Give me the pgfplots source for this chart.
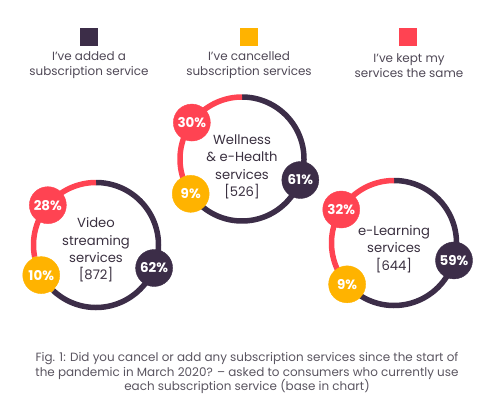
\documentclass[border=0pt]{standalone}
\usepackage{pgfplots}
\pgfplotsset{compat=1.18}
\usepackage{pgfplotstable}
\usepgfplotslibrary{polar}
\usepackage{fontspec}
\setmainfont{Poppins}
\definecolor{cAdd}{HTML}{3C2D48}
\definecolor{cCan}{HTML}{FFB300}
\definecolor{cKep}{HTML}{FF4352}
\definecolor{ctxt}{HTML}{3A3040}
\definecolor{cleg}{HTML}{4F4856}
\definecolor{ccap}{HTML}{5A5560}

% shares in %, ring centre (bp), ring radius (bp), label offset (bp)
\pgfplotstableread{
id added cancelled kept cx cy R dy
0 62 10 28 96 152 62.5 -5
1 61 9 30 242 238 62 -8
2 59 9 32 394 154 62.5 -6
}\shares

\newcommand\getv[2]{\pgfplotstablegetelem{#1}{#2}\of\shares}
\newcommand\ring[2]{%
  \getv{#1}{added}\let\vA\pgfplotsretval
  \getv{#1}{cancelled}\let\vC\pgfplotsretval
  \getv{#1}{kept}\let\vK\pgfplotsretval
  \getv{#1}{cx}\let\cx\pgfplotsretval
  \getv{#1}{cy}\let\cy\pgfplotsretval
  \getv{#1}{R}\let\rr\pgfplotsretval
  \getv{#1}{dy}\let\ly\pgfplotsretval
  \pgfmathsetmacro\aA{90-3.6*\vA}%
  \pgfmathsetmacro\aC{\aA-3.6*\vC}%
  \pgfmathsetmacro\aK{\aC-3.6*\vK}%
  \pgfmathsetmacro\mA{90-1.8*\vA}%
  \pgfmathsetmacro\mC{\aA-1.8*\vC}%
  \pgfmathsetmacro\mK{\aC-1.8*\vK}%
  \pgfmathsetmacro\dd{2*\rr}%
  \begin{polaraxis}[at={(\cx bp,\cy bp)}, anchor=origin, hide axis, scale only axis,
      width=\dd bp, height=\dd bp, xmin=0, xmax=360, ymin=0, ymax=1, clip=false,
      samples=120,
      every node near coord/.style={anchor=center, text=white,
        font=\bfseries\fontsize{13.5}{13.5}\selectfont}]
    \addplot[cAdd, line width=5.5bp, domain=\aA:90] {1};
    \addplot[cCan, line width=5.5bp, domain=\aC:\aA] {1};
    \addplot[cKep, line width=5.5bp, domain=\aK:\aC] {1};
    \addplot[only marks, mark=*, mark size=18.5bp, cAdd,
      nodes near coords={\vA\%}] coordinates {(\mA,1)};
    \addplot[only marks, mark=*, mark size=18.5bp, cCan,
      nodes near coords={\vC\%}] coordinates {(\mC,1)};
    \addplot[only marks, mark=*, mark size=18.5bp, cKep,
      nodes near coords={\vK\%}] coordinates {(\mK,1)};
  \end{polaraxis}
  \node[align=center, text=ctxt, font=\fontsize{13.2}{17.5}\selectfont]
    at (\cx,\cy+\ly) {#2};
}

\begin{document}
\begin{tikzpicture}[x=1bp,y=1bp]
\path[use as bounding box] (0,0) rectangle (494,397);

% legend
\fill[cAdd] (80,351) rectangle (98,369);
\fill[cCan] (240,351) rectangle (258,369);
\fill[cKep] (399,351) rectangle (417,369);
\node[align=center, text=cleg, font=\fontsize{12}{15}\selectfont] at (89,331.5)
  {I’ve added a\\subscription service};
\node[align=center, text=cleg, font=\fontsize{12}{15}\selectfont] at (249,331.5)
  {I’ve cancelled\\subscription services};
\node[align=center, text=cleg, font=\fontsize{12}{15}\selectfont] at (409,331.5)
  {I’ve kept my\\services the same};

\ring{0}{Video\\streaming\\services\\{[}872{]}}
\ring{1}{Wellness\\\&~e-Health\\services\\{[}526{]}}
\ring{2}{e-Learning\\services\\{[}644{]}}

% caption
\node[align=center, text=ccap, font=\fontsize{12}{14.5}\selectfont] at (247,24)
  {Fig. 1: Did you cancel or add any subscription services since the start of\\
   the pandemic in March 2020? – asked to consumers who currently use\\
   each subscription service (base in chart)};
\end{tikzpicture}
\end{document}
